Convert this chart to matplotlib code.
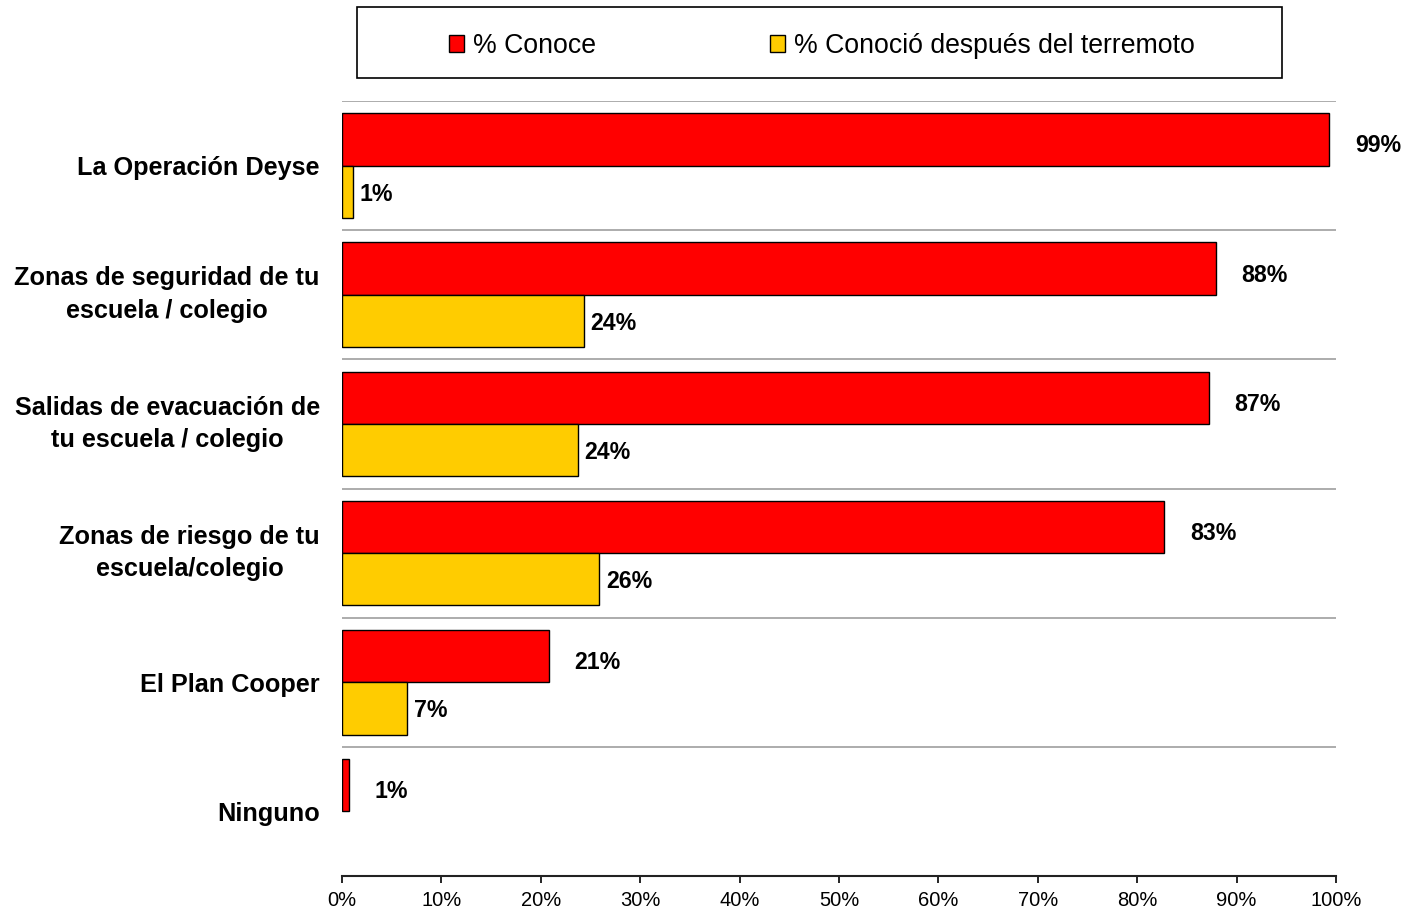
import matplotlib
matplotlib.use("Agg")
import matplotlib.pyplot as plt
import numpy as np
from matplotlib.patches import Rectangle, Patch

plt.rcParams['font.family'] = ['Liberation Sans', 'DejaVu Sans']

categories = ["La Operación Deyse",
              "Zonas de seguridad de tu\nescuela / colegio",
              "Salidas de evacuación de\ntu escuela / colegio",
              "Zonas de riesgo de tu\nescuela/colegio",
              "El Plan Cooper",
              "Ninguno"]
conoce = [99.3, 87.9, 87.2, 82.7, 20.8, 0.7]
conoce_labels = ["99%", "88%", "87%", "83%", "21%", "1%"]
despues = [1.1, 24.3, 23.7, 25.9, 6.5, np.nan]
despues_labels = ["1%", "24%", "24%", "26%", "7%", ""]
xticks = [0, 10, 20, 30, 40, 50, 60, 70, 80, 90, 100]
xticklabels = ["0%", "10%", "20%", "30%", "40%", "50%", "60%", "70%", "80%", "90%", "100%"]

RED = "#FF0000"
YELLOW = "#FFCC00"

W, H = 1406, 911
fig = plt.figure(figsize=(W / 100, H / 100), dpi=100)
ax = fig.add_axes([342 / W, 1 - 876 / H, (1336 - 342) / W, (876 - 101) / H])

n = len(categories)
centers = np.arange(n) + 0.5
bh = 0.405
ax.barh(centers - bh / 2, conoce, height=bh, color=RED, edgecolor="black", linewidth=1.0, zorder=3)
ax.barh(centers + bh / 2, despues, height=bh, color=YELLOW, edgecolor="black", linewidth=1.0, zorder=3)

for c, v, lab in zip(centers, conoce, conoce_labels):
    ax.text(v + 2.6, c - bh / 2 + 0.05, lab, ha="left", va="center", fontsize=16.7,
            fontweight="bold", clip_on=False)
for c, v, lab in zip(centers, despues, despues_labels):
    if lab and not np.isnan(v):
        ax.text(v + 0.7, c + bh / 2 + 0.02, lab, ha="left", va="center", fontsize=16.7,
                fontweight="bold", clip_on=False)

for b in range(n):
    ax.axhline(b, color="#A6A6A6", linewidth=1.3, zorder=1)

ax.set_xlim(0, 100)
ax.set_ylim(n, 0)
ax.set_xticks(xticks)
ax.set_xticklabels(xticklabels, fontsize=14.5)
ax.tick_params(axis="x", direction="out", length=5, width=1.2, pad=6, colors="black")
ax.set_yticks(centers)
ax.set_yticklabels(categories, fontsize=18.2, fontweight="bold")
ax.tick_params(axis="y", length=0, pad=16)
for t in ax.get_yticklabels():
    t.set_multialignment("center")
    t.set_linespacing(1.45)
    if "\n" in t.get_text():
        t.set_verticalalignment("center")

for s in ["top", "right", "left"]:
    ax.spines[s].set_visible(False)
ax.spines["bottom"].set_linewidth(1.5)
ax.spines["bottom"].set_color("#222222")

# legend frame
fig.patches.append(Rectangle((357 / W, 1 - 78 / H), (1282 - 357) / W, (78 - 7) / H,
                             transform=fig.transFigure, facecolor="white",
                             edgecolor="black", linewidth=1.2, zorder=0))
handles = [Patch(facecolor=RED, edgecolor="black", linewidth=1.0),
           Patch(facecolor=YELLOW, edgecolor="black", linewidth=1.0)]
fig.legend(handles, ["% Conoce", "% Conoció después del terremoto"], loc="center",
           bbox_to_anchor=(822 / W, 1 - 46 / H), ncol=2, frameon=False, fontsize=19.2,
           handlelength=0.57, handleheight=0.57, handletextpad=0.35, columnspacing=6.5,
           borderpad=0)

fig.savefig("out.png", dpi=100)
